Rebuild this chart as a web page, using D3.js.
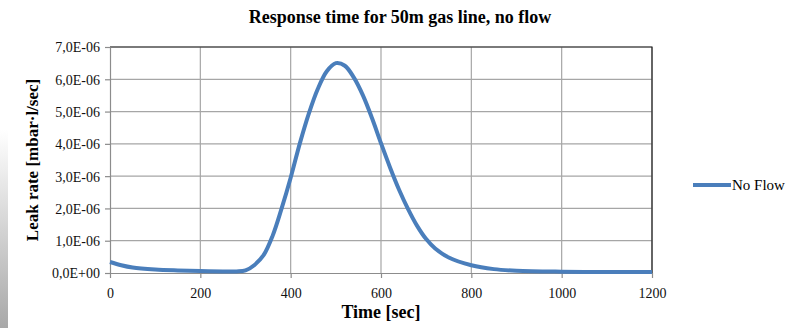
<!DOCTYPE html>
<html>
<head>
<meta charset="utf-8">
<script src="https://cdn.jsdelivr.net/npm/d3@7"></script>
<style>
  body { margin: 0; background: #fff; }
  text { font-family: "Liberation Serif", "Times New Roman", serif; }
</style>
</head>
<body>
<div id="chart"></div>
<script>
    // time axis, seconds
    var times = [0, 25, 50, 100, 150, 200, 250, 280, 300, 320, 340, 360, 380, 400, 420, 440, 460, 480, 500, 520, 540, 560, 580, 600, 620, 640, 660, 680, 700, 720, 750, 800, 850, 900, 1000, 1100, 1200];
    // leak rate, units of 1E-6 mbar*l/sec
    var leak = [0.34, 0.24, 0.17, 0.11, 0.08, 0.06, 0.05, 0.05, 0.08, 0.25, 0.55, 1.15, 2.0, 2.95, 4.0, 4.93, 5.7, 6.25, 6.5, 6.42, 6.05, 5.5, 4.8, 4.02, 3.27, 2.58, 1.98, 1.46, 1.05, 0.76, 0.48, 0.24, 0.12, 0.07, 0.04, 0.03, 0.03];

    var xTicks = [0, 200, 400, 600, 800, 1000, 1200];
    var yTicks = [0, 1, 2, 3, 4, 5, 6, 7];
    var yTickLabels = ["0,0E+00", "1,0E-06", "2,0E-06", "3,0E-06", "4,0E-06", "5,0E-06", "6,0E-06", "7,0E-06"];

    var seriesName = "No Flow";
    var lineColor = "#4a7ebb";

    var svg = d3.select("#chart").append("svg")
                .attr("width", 797)
                .attr("height", 328);

    // grey fade on the far left, like the scan
    var grad = svg.append("defs").append("linearGradient")
                  .attr("id", "fade").attr("x1", 0).attr("y1", 0).attr("x2", 0).attr("y2", 1);
    grad.append("stop").attr("offset", "0%").attr("stop-color", "#fff");
    grad.append("stop").attr("offset", "100%").attr("stop-color", "#a8a8a8");
    svg.append("rect").attr("x", 0).attr("y", 130).attr("width", 8).attr("height", 198)
       .style("fill", "url(#fade)");

    // plot box (pixels)
    var pLeft = 110, pRight = 652, pTop = 47, pBottom = 273;

    var x = d3.scaleLinear().domain([0, 1200]).range([pLeft, pRight]);
    var y = d3.scaleLinear().domain([0, 7]).range([pBottom, pTop]);

    // grid lines
    svg.append("g").selectAll("line").data(yTicks.slice(1)).enter().append("line")
       .attr("x1", pLeft).attr("x2", pRight)
       .attr("y1", function (d) { return y(d); }).attr("y2", function (d) { return y(d); })
       .attr("stroke", "#a6a6a6").attr("stroke-width", 1.2);
    svg.append("g").selectAll("line").data(xTicks.slice(1)).enter().append("line")
       .attr("y1", pTop).attr("y2", pBottom)
       .attr("x1", function (d) { return x(d); }).attr("x2", function (d) { return x(d); })
       .attr("stroke", "#a6a6a6").attr("stroke-width", 1.2);

    // plot border top + right
    svg.append("path")
       .attr("d", "M" + pLeft + "," + pTop + "H" + pRight + "V" + pBottom)
       .attr("fill", "none").attr("stroke", "#222").attr("stroke-width", 1.2);

    // axes
    var xAxis = d3.axisBottom(x).tickValues(xTicks).tickSize(5).tickSizeOuter(0)
                  .tickFormat(d3.format("d"));
    var yAxis = d3.axisLeft(y).tickValues(yTicks).tickSize(5).tickSizeOuter(0)
                  .tickFormat(function (d, i) { return yTickLabels[i]; });

    var gx = svg.append("g").attr("transform", "translate(0," + pBottom + ")").call(xAxis);
    var gy = svg.append("g").attr("transform", "translate(" + pLeft + ",0)").call(yAxis);

    [gx, gy].forEach(function (g) {
        g.select(".domain").attr("stroke", "#8c8c8c").attr("stroke-width", 1.2);
        g.selectAll(".tick line").attr("stroke", "#8c8c8c").attr("stroke-width", 1.2);
        g.selectAll("text").attr("font-size", "14px").attr("fill", "#111")
         .style("font-family", "'Liberation Serif', serif");
    });
    gx.selectAll("text").attr("dy", "0").attr("y", 25);
    gy.selectAll("text").attr("x", -10).attr("dy", "0.35em");

    // the curve
    var line = d3.line()
                 .x(function (d, i) { return x(times[i]); })
                 .y(function (d) { return y(d); })
                 .curve(d3.curveCatmullRom.alpha(0.5));

    svg.append("path").datum(leak)
       .attr("d", line)
       .attr("fill", "none")
       .attr("stroke", lineColor)
       .attr("stroke-width", 4)
       .attr("stroke-linejoin", "round");

    // titles
    svg.append("text").attr("x", 400).attr("y", 23)
       .attr("text-anchor", "middle").attr("font-size", "18px").attr("font-weight", "bold")
       .text("Response time for 50m gas line, no flow");

    svg.append("text").attr("x", 381).attr("y", 318)
       .attr("text-anchor", "middle").attr("font-size", "18px").attr("font-weight", "bold")
       .text("Time [sec]");

    svg.append("text")
       .attr("transform", "translate(38,160) rotate(-90)")
       .attr("text-anchor", "middle").attr("font-size", "17px").attr("font-weight", "bold")
       .text("Leak rate [mbar\u00b7l/sec]");

    // legend
    svg.append("line").attr("x1", 693).attr("x2", 731).attr("y1", 185).attr("y2", 185)
       .attr("stroke", lineColor).attr("stroke-width", 4);
    svg.append("text").attr("x", 732).attr("y", 190).attr("font-size", "15px")
       .text(seriesName);
</script>
</body>
</html>
